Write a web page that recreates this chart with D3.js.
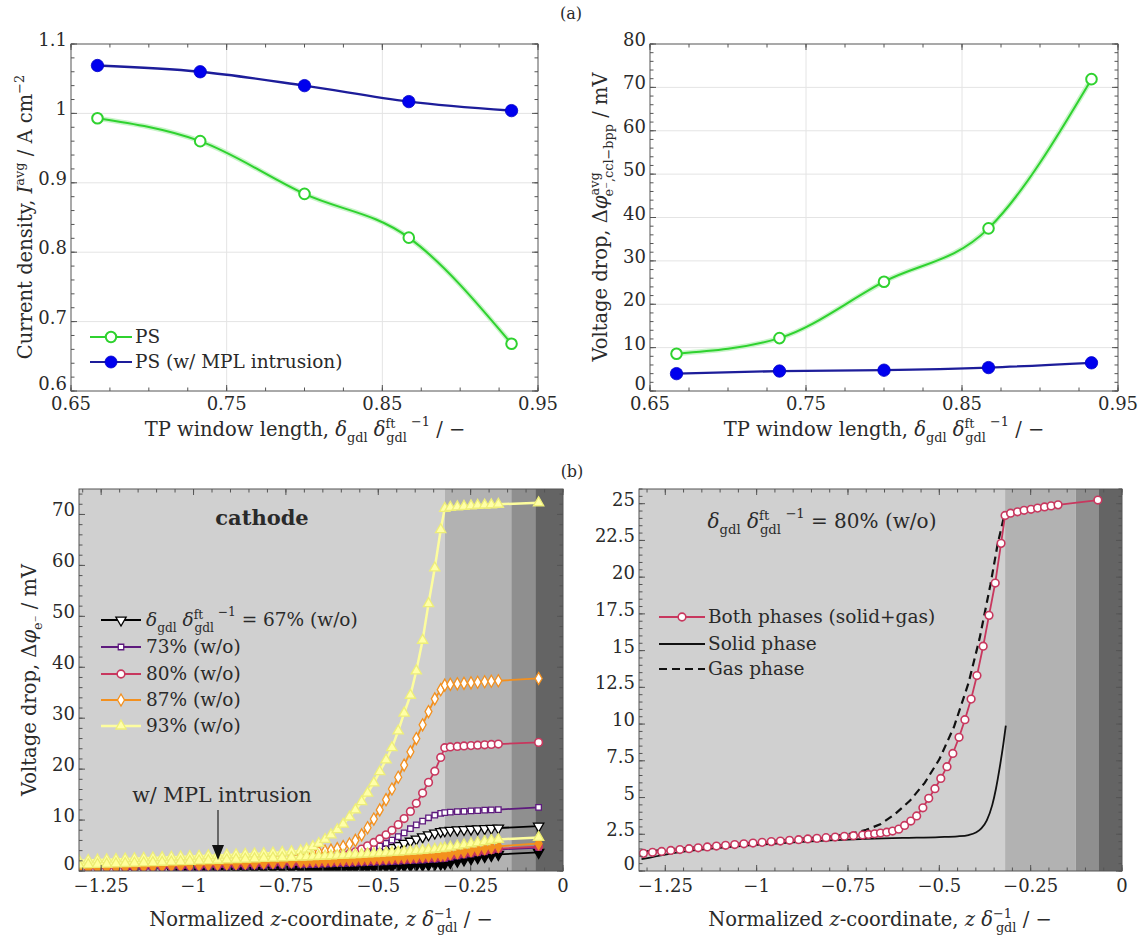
<!DOCTYPE html>
<html><head><meta charset="utf-8">
<script src="https://cdn.jsdelivr.net/npm/d3@7"></script>
<style>
body{margin:0;background:#fff}
svg{display:block}
text{fill:#2a2a2a}
</style>
</head><body>
<svg id="c" width="1142" height="938" font-family="'DejaVu Serif', 'Liberation Serif', serif"></svg>
<script>
// ---------------- DATA ----------------
const tpWindow      = [0.667, 0.733, 0.800, 0.867, 0.933];
const currentPS     = [0.993, 0.960, 0.884, 0.821, 0.668];
const currentPSMPL  = [1.069, 1.060, 1.040, 1.017, 1.004];
const dropPS        = [8.6, 12.2, 25.2, 37.5, 71.9];
const dropPSMPL     = [4.0, 4.6, 4.8, 5.4, 6.5];

const topXTicks       = [0.65, 0.75, 0.85, 0.95];
const topXTickLabels  = ["0.65", "0.75", "0.85", "0.95"];
const currentTicks    = [0.6, 0.7, 0.8, 0.9, 1.0, 1.1];
const currentTickLabels = ["0.6", "0.7", "0.8", "0.9", "1", "1.1"];
const dropTicks       = [0, 10, 20, 30, 40, 50, 60, 70, 80];
const dropTickLabels  = ["0", "10", "20", "30", "40", "50", "60", "70", "80"];
const zTicks          = [-1.25, -1, -0.75, -0.5, -0.25, 0];
const zTickLabels     = ["\u22121.25", "\u22121", "\u22120.75", "\u22120.5", "\u22120.25", "0"];
const cathodeTicks    = [0, 10, 20, 30, 40, 50, 60, 70];
const cathodeTickLabels = ["0", "10", "20", "30", "40", "50", "60", "70"];
const detailTicks     = [0, 2.5, 5, 7.5, 10, 12.5, 15, 17.5, 20, 22.5, 25];
const detailTickLabels = ["0", "2.5", "5", "7.5", "10", "12.5", "15", "17.5", "20", "22.5", "25"];

// layer boundaries (normalized z) : GDL | MPL | CL | membrane
const cathodeLayers = [-0.32, -0.14, -0.075];
const detailLayers  = [-0.32, -0.127, -0.063];

// normalized z of the sampled points
const zMesh = [
 -1.310,-1.285,-1.260,-1.235,-1.210,-1.185,-1.160,-1.135,-1.110,-1.085,
 -1.060,-1.035,-1.010,-0.985,-0.960,-0.935,-0.910,-0.885,-0.860,-0.835,
 -0.810,-0.785,-0.760,-0.735,-0.710,
 -0.694,-0.677,-0.661,-0.644,-0.628,-0.611,-0.595,-0.578,-0.562,-0.545,
 -0.529,-0.512,-0.496,-0.479,-0.463,-0.446,-0.430,-0.413,-0.397,-0.380,
 -0.364,-0.347,-0.331,
 -0.320,
 -0.305,-0.286,-0.268,-0.249,-0.231,-0.212,-0.194,-0.175,
 -0.066];

// w/o MPL intrusion
const wo93 = [2.00,2.07,2.14,2.21,2.28,2.35,2.42,2.49,2.56,2.63, 2.70,2.77,2.84,2.91,2.98,3.05,3.12,3.20,3.28,3.36, 3.45,3.55,3.66,3.80,3.98,
 4.30,4.80,5.40,6.20,7.10,8.10,9.20,10.60,12.00,13.60, 15.30,17.30,19.50,21.80,24.20,27.50,31.00,34.50,39.30,45.30, 52.50,59.50,67.00,
 71.20, 71.40,71.50,71.60,71.70,71.80,71.85,71.90,72.00, 72.30];
const wo87 = [1.50,1.57,1.64,1.71,1.78,1.85,1.92,1.99,2.06,2.13, 2.20,2.27,2.34,2.41,2.48,2.55,2.62,2.69,2.76,2.83, 2.90,2.98,3.06,3.15,3.25,
 3.40,3.55,3.70,3.90,4.10,4.40,4.80,5.30,6.00,7.10, 8.50,10.20,12.00,14.00,16.10,18.40,20.80,23.40,26.00,28.70, 31.30,33.80,35.60,
 36.50, 36.65,36.75,36.85,36.95,37.05,37.15,37.25,37.35, 37.80];
const wo80 = [1.20,1.27,1.33,1.40,1.46,1.52,1.58,1.64,1.70,1.75, 1.80,1.85,1.90,1.95,2.00,2.04,2.09,2.13,2.18,2.22, 2.27,2.31,2.36,2.40,2.45,
 2.49,2.53,2.58,2.64,2.72,2.85,3.10,3.40,3.75,4.30, 4.95,5.60,6.30,7.10,8.00,9.10,10.30,11.70,13.30,15.30, 17.40,19.60,22.30,
 24.20, 24.35,24.45,24.55,24.62,24.70,24.78,24.85,24.92, 25.25];
const wo73 = [null,null,null,null,null,0.60,0.66,0.72,0.78,0.84, 0.90,0.96,1.02,1.08,1.14,1.20,1.26,1.33,1.40,1.47, 1.55,1.63,1.72,1.82,1.93,
 2.02,2.12,2.24,2.37,2.52,2.70,2.90,3.13,3.40,3.70, 4.05,4.45,4.90,5.45,6.05,6.75,7.50,8.30,9.05,9.80, 10.45,10.95,11.30,
 11.45, 11.55,11.65,11.72,11.80,11.87,11.94,12.00,12.06, 12.50];
const wo67 = [null,null,null,null,null,null,null,null,null,null, 0.30,0.38,0.46,0.54,0.62,0.70,0.78,0.87,0.96,1.05, 1.15,1.25,1.36,1.48,1.60,
 1.70,1.80,1.92,2.05,2.18,2.33,2.50,2.68,2.88,3.10, 3.35,3.62,3.92,4.25,4.60,5.00,5.42,5.85,6.28,6.70, 7.10,7.45,7.75,
 7.90, 8.00,8.07,8.14,8.20,8.26,8.32,8.38,8.44, 8.80];
// w/ MPL intrusion
const mpl93 = [1.20,1.25,1.30,1.35,1.41,1.47,1.53,1.59,1.65,1.71, 1.77,1.83,1.90,1.97,2.04,2.11,2.18,2.25,2.32,2.39, 2.46,2.53,2.60,2.67,2.74,
 2.79,2.84,2.89,2.94,2.99,3.05,3.11,3.17,3.23,3.29, 3.36,3.43,3.50,3.57,3.64,3.72,3.80,3.88,3.97,4.06, 4.16,4.27,4.40,
 4.50, 4.70,4.92,5.13,5.35,5.56,5.78,5.99,6.20, 6.60];
const mpl87 = [0.60,0.65,0.70,0.75,0.80,0.85,0.90,0.95,1.00,1.05, 1.10,1.15,1.20,1.25,1.30,1.35,1.40,1.46,1.52,1.58, 1.64,1.70,1.76,1.82,1.88,
 1.92,1.96,2.00,2.04,2.08,2.12,2.16,2.21,2.26,2.31, 2.36,2.41,2.46,2.52,2.58,2.64,2.70,2.77,2.84,2.91, 2.98,3.06,3.15,
 3.22, 3.45,3.65,3.85,4.05,4.25,4.45,4.65,4.85, 5.40];
const mpl80 = [0.50,0.55,0.59,0.63,0.67,0.71,0.75,0.79,0.83,0.87, 0.91,0.95,0.99,1.03,1.07,1.11,1.15,1.20,1.25,1.30, 1.35,1.40,1.45,1.50,1.55,
 1.59,1.63,1.67,1.71,1.75,1.79,1.83,1.87,1.91,1.95, 1.99,2.04,2.09,2.14,2.19,2.24,2.29,2.35,2.41,2.47, 2.53,2.60,2.68,
 2.75, 2.98,3.18,3.38,3.58,3.78,3.98,4.18,4.38, 4.80];
const mpl73 = [null,null,null,null,null,0.35,0.39,0.43,0.47,0.51, 0.55,0.59,0.63,0.67,0.71,0.75,0.79,0.84,0.89,0.94, 0.99,1.04,1.09,1.14,1.19,
 1.23,1.27,1.31,1.35,1.39,1.43,1.47,1.51,1.55,1.60, 1.65,1.70,1.75,1.80,1.85,1.91,1.97,2.03,2.09,2.15, 2.22,2.29,2.37,
 2.44, 2.68,2.90,3.12,3.34,3.56,3.78,4.00,4.22, 4.60];
const mpl67 = [null,null,null,null,null,null,null,null,null,null, 0.20,0.21,0.22,0.23,0.24,0.25,0.26,0.27,0.28,0.29, 0.30,0.31,0.32,0.33,0.34,
 0.36,0.38,0.40,0.42,0.44,0.47,0.50,0.53,0.56,0.60, 0.64,0.68,0.72,0.77,0.82,0.87,0.93,0.99,1.05,1.12, 1.19,1.27,1.35,
 1.42, 1.65,1.90,2.15,2.40,2.62,2.84,3.05,3.25, 3.65];

// 80 % (w/o): phase contributions
const bothPhases = wo80;
const solidZ = [-1.315,-1.25,-1.2,-1.1,-1.0,-0.9,-0.8,-0.7,-0.6,-0.5,-0.45,-0.42,-0.40,-0.385,-0.37,-0.355,-0.345,-0.335,-0.325,-0.318];
const solidV = [0.80,1.12,1.32,1.58,1.78,1.95,2.08,2.18,2.25,2.31,2.36,2.45,2.62,2.90,3.45,4.50,5.60,7.00,8.60,9.90];
const gasZ = [-1.315,-1.2,-1.1,-1.0,-0.9,-0.8,-0.75,-0.70,-0.66,-0.62,-0.58,-0.54,-0.50,-0.46,-0.42,-0.39,-0.36,-0.34,-0.325,-0.318,-0.305];
const gasV = [1.30,1.55,1.75,1.95,2.15,2.35,2.50,2.80,3.20,3.90,4.80,6.00,7.60,9.80,12.80,15.80,19.50,22.30,23.90,24.30,24.40];

// ---------------- DRAWING ----------------
const svg = d3.select('#c');
svg.append('rect').attr('width',1142).attr('height',938).attr('fill','#fff');
let clipN = 0;
const FS = 18;      // tick labels
const TS = 19.5;    // axis titles
const LS = 18.5;    // legends

function rich(t, parts, fs) {
  let cur = 0;
  for (const p of parts) {
    const [s, pos, it, dx] = p;
    const off = pos === 1 ? -0.4*fs : pos === -1 ? 0.3*fs : pos === 2 ? -0.52*fs : 0;
    const ts = t.append('tspan').text(s).attr('dy', off - cur)
      .attr('font-size', pos ? 0.66*fs : fs)
      .attr('font-style', it ? 'italic' : 'normal');
    if (dx) ts.attr('dx', dx * fs / 17);
    cur = off;
  }
  return t;
}
const deltaRatio = [["\u03B4",0,1],["gdl",-1],[" "],["\u03B4",0,1],["ft",1],["gdl",-1,0,-8],[" \u22121",2]];

function makePanel(o) {
  const g = svg.append('g');
  const x = d3.scaleLinear().domain(o.xd).range([o.x0, o.x1]);
  const y = d3.scaleLinear().domain(o.yd).range([o.y1, o.y0]);
  const id = 'clip' + (++clipN);
  svg.append('clipPath').attr('id', id).append('rect')
    .attr('x', o.x0).attr('y', o.y0).attr('width', o.x1 - o.x0).attr('height', o.y1 - o.y0);
  const bg = g.append('g').attr('clip-path', `url(#${id})`);
  const data = g.append('g').attr('clip-path', `url(#${id})`);
  const fr = g.append('g');
  return {g, x, y, bg, data, fr, o};
}

function frame(P, xt, xl, xm, yt, yl, ym, lblOff) {
  const {x0, x1, y0, y1} = P.o, f = P.fr;
  const tc = '#555', L = 6, l = 3.5;
  const tick = (a, b, c, d) => f.append('line').attr('x1', a).attr('y1', b).attr('x2', c).attr('y2', d)
    .attr('stroke', tc).attr('stroke-width', 1);
  xm.forEach(v => { const X = P.x(v); tick(X, y1, X, y1 - l); tick(X, y0, X, y0 + l); });
  xt.forEach(v => { const X = P.x(v); tick(X, y1, X, y1 - L); tick(X, y0, X, y0 + L); });
  ym.forEach(v => { const Y = P.y(v); tick(x0, Y, x0 + l, Y); tick(x1, Y, x1 - l, Y); });
  yt.forEach(v => { const Y = P.y(v); tick(x0, Y, x0 + L, Y); tick(x1, Y, x1 - L, Y); });
  f.append('rect').attr('x', x0).attr('y', y0).attr('width', x1 - x0).attr('height', y1 - y0)
    .attr('fill', 'none').attr('stroke', '#555').attr('stroke-width', 1);
  xt.forEach((v, i) => f.append('text').attr('x', P.x(v)).attr('y', y1 + lblOff)
    .attr('text-anchor', 'middle').attr('font-size', FS).text(xl[i]));
  yt.forEach((v, i) => f.append('text').attr('x', x0 - 4).attr('y', P.y(v) + (i === 0 ? -1 : 2))
    .attr('text-anchor', 'end').attr('font-size', FS).text(yl[i]));
}

function grid(P, xt, yt) {
  xt.forEach(v => P.bg.append('line').attr('x1', P.x(v)).attr('x2', P.x(v)).attr('y1', P.o.y0).attr('y2', P.o.y1)
    .attr('stroke', '#e4e4e4').attr('stroke-width', 1));
  yt.forEach(v => P.bg.append('line').attr('y1', P.y(v)).attr('y2', P.y(v)).attr('x1', P.o.x0).attr('x2', P.o.x1)
    .attr('stroke', '#e4e4e4').attr('stroke-width', 1));
}

const range = (a, b, s) => d3.range(a, b + s/2, s);

// ---- top series drawing
const GREEN = '#2fd22f', GREEN_HALO = '#c9f4c9', NAVY = '#1d1d9a', BLUE = '#0000ee';
function topSeries(P, vals, filled) {
  const pts = tpWindow.map((t, i) => [P.x(t), P.y(vals[i])]);
  const line = d3.line().curve(d3.curveMonotoneX);
  if (!filled) {
    P.data.append('path').attr('d', line(pts)).attr('fill', 'none').attr('stroke', GREEN_HALO).attr('stroke-width', 5);
    P.data.append('path').attr('d', line(pts)).attr('fill', 'none').attr('stroke', GREEN).attr('stroke-width', 2);
    pts.forEach(p => P.data.append('circle').attr('cx', p[0]).attr('cy', p[1]).attr('r', 5.3)
      .attr('fill', '#fff').attr('stroke', GREEN).attr('stroke-width', 2));
  } else {
    P.data.append('path').attr('d', line(pts)).attr('fill', 'none').attr('stroke', NAVY).attr('stroke-width', 2.3);
    pts.forEach(p => P.data.append('circle').attr('cx', p[0]).attr('cy', p[1]).attr('r', 6.2)
      .attr('fill', BLUE).attr('stroke', '#0000c8').attr('stroke-width', 0.8));
  }
}

// ---- Panel (a) left
const P1 = makePanel({x0: 71, x1: 538, y0: 44, y1: 391, xd: [0.65, 0.95], yd: [0.6, 1.1]});
grid(P1, [0.75, 0.85], [0.7, 0.8, 0.9, 1.0]);
topSeries(P1, currentPS, false);
topSeries(P1, currentPSMPL, true);
frame(P1, topXTicks, topXTickLabels, range(0.65, 0.95, 0.025), currentTicks, currentTickLabels, range(0.6, 1.1, 0.02), 19);

// legend (a) left
(function() {
  const g = P1.fr;
  [[337, false, 'PS'], [362, true, 'PS (w/ MPL intrusion)']].forEach(([yy, filled, lab]) => {
    g.append('line').attr('x1', 90).attr('x2', 132).attr('y1', yy).attr('y2', yy)
      .attr('stroke', filled ? NAVY : GREEN).attr('stroke-width', 2.2);
    g.append('circle').attr('cx', 111).attr('cy', yy).attr('r', filled ? 6 : 5.2)
      .attr('fill', filled ? BLUE : '#fff').attr('stroke', filled ? '#0000c8' : GREEN).attr('stroke-width', filled ? 0.8 : 2);
    g.append('text').attr('x', 135).attr('y', yy + 6).attr('font-size', LS).text(lab);
  });
})();

// ---- Panel (a) right
const P2 = makePanel({x0: 650, x1: 1118, y0: 44, y1: 391, xd: [0.65, 0.95], yd: [0, 80]});
grid(P2, [0.75, 0.85], [10, 20, 30, 40, 50, 60, 70]);
topSeries(P2, dropPS, false);
topSeries(P2, dropPSMPL, true);
frame(P2, topXTicks, topXTickLabels, range(0.65, 0.95, 0.025), dropTicks, dropTickLabels, range(0, 80, 2), 19);

// ---- bottom panels
const LAYER_COLORS = ['#d0d0d0', '#b2b2b2', '#8f8f8f', '#646464'];
function layers(P, bounds) {
  const edges = [P.x.domain()[0], ...bounds, 0];
  for (let i = 0; i < 4; i++) {
    P.bg.append('rect').attr('x', P.x(edges[i])).attr('y', P.o.y0)
      .attr('width', P.x(edges[i + 1]) - P.x(edges[i])).attr('height', P.o.y1 - P.o.y0)
      .attr('fill', LAYER_COLORS[i]);
  }
}
const SYM = {
  tri: d3.symbol().type(d3.symbolTriangle).size(46)(),
  sq: d3.symbol().type(d3.symbolSquare).size(30)(),
  circ: d3.symbol().type(d3.symbolCircle).size(46)(),
  dia: d3.symbol().type(d3.symbolDiamond).size(42)()
};
function marker(g, x, y, st) {
  g.append('path').attr('d', SYM[st.shape])
    .attr('transform', `translate(${x},${y})` + (st.rot ? ` rotate(${st.rot})` : ''))
    .attr('fill', st.fill).attr('stroke', st.stroke).attr('stroke-width', st.sw || 1.3);
}
function zSeries(P, vals, st) {
  const pts = [];
  zMesh.forEach((z, i) => { if (vals[i] != null) pts.push([P.x(z), P.y(vals[i])]); });
  P.data.append('path').attr('d', d3.line()(pts)).attr('fill', 'none')
    .attr('stroke', st.line).attr('stroke-width', st.lw || 1.8);
  pts.forEach(p => marker(P.data, p[0], p[1], st));
}

const C67 = '#000000', C73 = '#5e1a7e', C80 = '#c8375e', C87 = '#f3901e', C93 = '#fdfd9e';
const styles = {
  wo67: {shape: 'tri', rot: 180, fill: '#fff', stroke: C67, line: C67},
  w67:  {shape: 'tri', rot: 180, fill: C67, stroke: C67, line: C67},
  wo73: {shape: 'sq', fill: '#fff', stroke: C73, line: C73},
  w73:  {shape: 'sq', fill: C73, stroke: C73, line: C73},
  wo80: {shape: 'circ', fill: '#fff', stroke: C80, line: C80, sw: 1.6},
  w80:  {shape: 'circ', fill: C80, stroke: C80, line: C80},
  wo87: {shape: 'dia', fill: '#fff', stroke: C87, line: C87},
  w87:  {shape: 'dia', fill: C87, stroke: C87, line: C87},
  wo93: {shape: 'tri', fill: '#ffffa8', stroke: '#eeee78', line: C93, lw: 2.5},
  w93:  {shape: 'tri', fill: '#ffff9c', stroke: '#ecec70', line: C93, lw: 2.5}
};

// ---- Panel (b) left
const P3 = makePanel({x0: 79, x1: 563, y0: 489, y1: 871, xd: [-1.31, 0], yd: [0, 75]});
layers(P3, cathodeLayers);
[['wo67', wo67], ['w67', mpl67], ['wo73', wo73], ['w73', mpl73], ['wo80', wo80], ['w80', mpl80],
 ['wo87', wo87], ['w87', mpl87], ['wo93', wo93], ['w93', mpl93]].forEach(([k, v]) => zSeries(P3, v, styles[k]));
frame(P3, zTicks, zTickLabels, range(-1.3, 0, 0.05), cathodeTicks, cathodeTickLabels, range(0, 74, 2), 21);

P3.fr.append('text').attr('x', 262).attr('y', 525).attr('text-anchor', 'middle')
  .attr('font-size', 21).attr('font-weight', 'bold').text('cathode');
P3.fr.append('text').attr('x', 222).attr('y', 802).attr('text-anchor', 'middle')
  .attr('font-size', 20.5).text('w/ MPL intrusion');
P3.fr.append('line').attr('x1', 218).attr('x2', 218).attr('y1', 810).attr('y2', 848).attr('stroke', '#222').attr('stroke-width', 1.2);
P3.fr.append('path').attr('d', 'M212,845 L224,845 L218,860 Z').attr('fill', '#111');

// legend (b) left
(function() {
  const rows = [['wo67', 620], ['wo73', 647], ['wo80', 674], ['wo87', 700], ['wo93', 726]];
  const labs = ['67% (w/o)', '73% (w/o)', '80% (w/o)', '87% (w/o)', '93% (w/o)'];
  rows.forEach(([k, yy], i) => {
    const st = styles[k];
    P3.fr.append('line').attr('x1', 101).attr('x2', 141).attr('y1', yy).attr('y2', yy)
      .attr('stroke', st.line).attr('stroke-width', st.lw || 1.8);
    marker(P3.fr, 121, yy, st);
    const t = P3.fr.append('text').attr('x', 146).attr('y', yy + 6).attr('font-size', LS);
    if (i === 0) rich(t, [...deltaRatio, [" = 67% (w/o)"]], LS);
    else t.text(labs[i]);
  });
})();

// ---- Panel (b) right
const P4 = makePanel({x0: 639, x1: 1122, y0: 489, y1: 871, xd: [-1.322, 0], yd: [0, 26]});
layers(P4, detailLayers);
(function() {
  const sp = solidZ.map((z, i) => [P4.x(z), P4.y(solidV[i])]);
  const gp = gasZ.map((z, i) => [P4.x(z), P4.y(gasV[i])]);
  P4.data.append('path').attr('d', d3.line()(gp)).attr('fill', 'none').attr('stroke', '#111')
    .attr('stroke-width', 2.2).attr('stroke-dasharray', '8,5');
  P4.data.append('path').attr('d', d3.line().curve(d3.curveMonotoneX)(sp)).attr('fill', 'none').attr('stroke', '#111')
    .attr('stroke-width', 1.8);
  zSeries(P4, bothPhases, styles.wo80);
})();
frame(P4, zTicks, zTickLabels, range(-1.3, 0, 0.05), detailTicks, detailTickLabels, range(0, 26, 0.5), 21);

rich(P4.fr.append('text').attr('x', 822).attr('y', 528).attr('text-anchor', 'middle').attr('font-size', 20),
  [...deltaRatio, [" = 80% (w/o)"]], 20);
(function() {
  const g = P4.fr;
  const rows = [[617, 'Both phases (solid+gas)'], [644, 'Solid phase'], [669, 'Gas phase']];
  rows.forEach(([yy, lab], i) => {
    const ln = g.append('line').attr('x1', 659).attr('x2', 705).attr('y1', yy).attr('y2', yy)
      .attr('stroke', i === 0 ? C80 : '#111').attr('stroke-width', i === 0 ? 1.8 : 2);
    if (i === 2) ln.attr('stroke-dasharray', '8,5');
    if (i === 0) marker(g, 682, yy, styles.wo80);
    g.append('text').attr('x', 708).attr('y', yy + 6).attr('font-size', LS).text(lab);
  });
})();

// ---- titles
function xTitle(cx, y, parts) {
  rich(svg.append('text').attr('x', cx).attr('y', y).attr('text-anchor', 'middle').attr('font-size', TS), parts, TS);
}
function yTitle(x, cy, parts) {
  rich(svg.append('text').attr('transform', `translate(${x},${cy}) rotate(-90)`).attr('text-anchor', 'middle')
    .attr('font-size', TS), parts, TS);
}
const tpTitle = [["TP window length, "], ...deltaRatio, [" / \u2212"]];
xTitle(305, 436, tpTitle);
xTitle(884, 436, tpTitle);
const zTitle = [["Normalized "], ["z", 0, 1], ["-coordinate, "], ["z", 0, 1], [" "], ["\u03B4", 0, 1], ["\u22121", 1], ["gdl", -1, 0, -14], [" / \u2212"]];
xTitle(321, 926, zTitle);
xTitle(880, 926, zTitle);
yTitle(32, 217, [["Current density, "], ["I", 0, 1], ["avg", 1], [" / A cm"], ["\u22122", 1]]);
yTitle(607, 217, [["Voltage drop, \u0394"], ["\u03C6", 0, 1], ["avg", 1], ["e\u207B,ccl\u2212bpp", -1, 0, -21], [" / mV"]]);
yTitle(36, 680, [["Voltage drop, \u0394"], ["\u03C6", 0, 1], ["e\u207B", -1], [" / mV"]]);

svg.append('text').attr('x', 571).attr('y', 19).attr('text-anchor', 'middle').attr('font-size', 16).text('(a)');
svg.append('text').attr('x', 572).attr('y', 477).attr('text-anchor', 'middle').attr('font-size', 16).text('(b)');
</script>
</body></html>
